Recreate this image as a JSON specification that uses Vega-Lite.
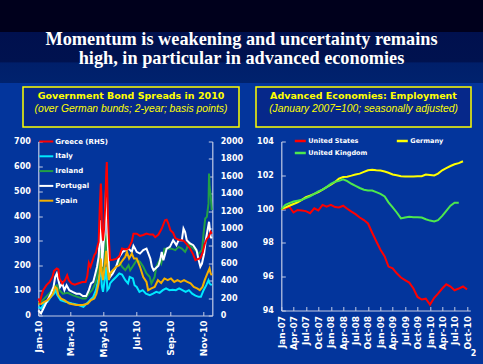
{
  "$schema": "https://vega.github.io/schema/vega-lite/v6.json",
  "background": "#03359c",
  "padding": {"left": 0, "top": 0, "right": 0, "bottom": 14},
  "config": {
    "font": "DejaVu Sans",
    "view": {"stroke": null},
    "axis": {
      "labelColor": "#ffffff", "labelFont": "DejaVu Sans", "labelFontWeight": "bold",
      "domainColor": "#c4cce6", "tickColor": "#c4cce6", "domainWidth": 1.2,
      "tickSize": -4, "grid": false, "labelFlush": false, "labelOverlap": false, "labelBound": false
    },
    "legend": {
      "symbolType": "stroke", "symbolStrokeWidth": 2.5,
      "labelColor": "#ffffff", "labelFont": "DejaVu Sans", "labelFontWeight": "bold",
      "labelOffset": 1, "padding": 0
    }
  },
  "datasets": {
    "band": [{"t": ["Momentum is weakening and uncertainty remains", "high, in particular in advanced economies"]}],
    "blank": [{"t": ""}],
    "spreads": [
      {"s":"Greece (RHS)","d":"2010/01/01","v":195},{"s":"Greece (RHS)","d":"2010/01/04","v":157},{"s":"Greece (RHS)","d":"2010/01/07","v":230},{"s":"Greece (RHS)","d":"2010/01/10","v":291},{"s":"Greece (RHS)","d":"2010/01/16","v":349},{"s":"Greece (RHS)","d":"2010/01/22","v":387},{"s":"Greece (RHS)","d":"2010/01/27","v":443},{"s":"Greece (RHS)","d":"2010/01/30","v":513},{"s":"Greece (RHS)","d":"2010/02/04","v":540},{"s":"Greece (RHS)","d":"2010/02/07","v":530},{"s":"Greece (RHS)","d":"2010/02/09","v":425},{"s":"Greece (RHS)","d":"2010/02/14","v":368},{"s":"Greece (RHS)","d":"2010/02/19","v":406},{"s":"Greece (RHS)","d":"2010/02/23","v":463},{"s":"Greece (RHS)","d":"2010/02/26","v":406},{"s":"Greece (RHS)","d":"2010/03/03","v":368},{"s":"Greece (RHS)","d":"2010/03/09","v":355},{"s":"Greece (RHS)","d":"2010/03/15","v":368},{"s":"Greece (RHS)","d":"2010/03/23","v":385},{"s":"Greece (RHS)","d":"2010/03/29","v":385},{"s":"Greece (RHS)","d":"2010/04/01","v":450},{"s":"Greece (RHS)","d":"2010/04/04","v":605},{"s":"Greece (RHS)","d":"2010/04/07","v":559},{"s":"Greece (RHS)","d":"2010/04/10","v":616},{"s":"Greece (RHS)","d":"2010/04/14","v":693},{"s":"Greece (RHS)","d":"2010/04/17","v":720},{"s":"Greece (RHS)","d":"2010/04/20","v":800},{"s":"Greece (RHS)","d":"2010/04/22","v":846},{"s":"Greece (RHS)","d":"2010/04/24","v":1230},{"s":"Greece (RHS)","d":"2010/04/26","v":1517},{"s":"Greece (RHS)","d":"2010/04/27","v":1400},{"s":"Greece (RHS)","d":"2010/04/28","v":1000},{"s":"Greece (RHS)","d":"2010/04/30","v":860},{"s":"Greece (RHS)","d":"2010/05/02","v":1000},{"s":"Greece (RHS)","d":"2010/05/04","v":1250},{"s":"Greece (RHS)","d":"2010/05/06","v":1650},{"s":"Greece (RHS)","d":"2010/05/07","v":1765},{"s":"Greece (RHS)","d":"2010/05/09","v":1150},{"s":"Greece (RHS)","d":"2010/05/11","v":860},{"s":"Greece (RHS)","d":"2010/05/13","v":636},{"s":"Greece (RHS)","d":"2010/05/18","v":640},{"s":"Greece (RHS)","d":"2010/05/24","v":650},{"s":"Greece (RHS)","d":"2010/05/30","v":680},{"s":"Greece (RHS)","d":"2010/06/04","v":770},{"s":"Greece (RHS)","d":"2010/06/10","v":760},{"s":"Greece (RHS)","d":"2010/06/16","v":770},{"s":"Greece (RHS)","d":"2010/06/22","v":850},{"s":"Greece (RHS)","d":"2010/06/25","v":940},{"s":"Greece (RHS)","d":"2010/07/01","v":940},{"s":"Greece (RHS)","d":"2010/07/07","v":915},{"s":"Greece (RHS)","d":"2010/07/13","v":925},{"s":"Greece (RHS)","d":"2010/07/19","v":942},{"s":"Greece (RHS)","d":"2010/07/25","v":930},{"s":"Greece (RHS)","d":"2010/07/31","v":930},{"s":"Greece (RHS)","d":"2010/08/04","v":900},{"s":"Greece (RHS)","d":"2010/08/10","v":930},{"s":"Greece (RHS)","d":"2010/08/16","v":1000},{"s":"Greece (RHS)","d":"2010/08/22","v":1095},{"s":"Greece (RHS)","d":"2010/08/25","v":1100},{"s":"Greece (RHS)","d":"2010/08/28","v":1060},{"s":"Greece (RHS)","d":"2010/09/01","v":980},{"s":"Greece (RHS)","d":"2010/09/06","v":950},{"s":"Greece (RHS)","d":"2010/09/10","v":890},{"s":"Greece (RHS)","d":"2010/09/16","v":870},{"s":"Greece (RHS)","d":"2010/09/25","v":860},{"s":"Greece (RHS)","d":"2010/10/01","v":820},{"s":"Greece (RHS)","d":"2010/10/07","v":770},{"s":"Greece (RHS)","d":"2010/10/13","v":700},{"s":"Greece (RHS)","d":"2010/10/17","v":636},{"s":"Greece (RHS)","d":"2010/10/22","v":650},{"s":"Greece (RHS)","d":"2010/10/26","v":660},{"s":"Greece (RHS)","d":"2010/10/30","v":720},{"s":"Greece (RHS)","d":"2010/11/03","v":820},{"s":"Greece (RHS)","d":"2010/11/07","v":880},{"s":"Greece (RHS)","d":"2010/11/10","v":900},{"s":"Greece (RHS)","d":"2010/11/14","v":961},{"s":"Greece (RHS)","d":"2010/11/16","v":940},
      {"s":"Italy","d":"2010/01/01","v":35},{"s":"Italy","d":"2010/01/06","v":28},{"s":"Italy","d":"2010/01/12","v":48},{"s":"Italy","d":"2010/01/18","v":55},{"s":"Italy","d":"2010/01/24","v":75},{"s":"Italy","d":"2010/01/30","v":88},{"s":"Italy","d":"2010/02/02","v":102},{"s":"Italy","d":"2010/02/05","v":82},{"s":"Italy","d":"2010/02/11","v":62},{"s":"Italy","d":"2010/02/20","v":55},{"s":"Italy","d":"2010/03/04","v":48},{"s":"Italy","d":"2010/03/16","v":42},{"s":"Italy","d":"2010/03/25","v":35},{"s":"Italy","d":"2010/03/31","v":48},{"s":"Italy","d":"2010/04/06","v":62},{"s":"Italy","d":"2010/04/12","v":75},{"s":"Italy","d":"2010/04/17","v":102},{"s":"Italy","d":"2010/04/21","v":142},{"s":"Italy","d":"2010/04/26","v":180},{"s":"Italy","d":"2010/04/28","v":115},{"s":"Italy","d":"2010/04/30","v":95},{"s":"Italy","d":"2010/05/03","v":142},{"s":"Italy","d":"2010/05/06","v":196},{"s":"Italy","d":"2010/05/08","v":102},{"s":"Italy","d":"2010/05/11","v":110},{"s":"Italy","d":"2010/05/13","v":129},{"s":"Italy","d":"2010/05/18","v":142},{"s":"Italy","d":"2010/05/24","v":155},{"s":"Italy","d":"2010/05/30","v":169},{"s":"Italy","d":"2010/06/04","v":165},{"s":"Italy","d":"2010/06/10","v":142},{"s":"Italy","d":"2010/06/15","v":129},{"s":"Italy","d":"2010/06/18","v":155},{"s":"Italy","d":"2010/06/24","v":149},{"s":"Italy","d":"2010/06/27","v":122},{"s":"Italy","d":"2010/07/01","v":115},{"s":"Italy","d":"2010/07/06","v":95},{"s":"Italy","d":"2010/07/12","v":102},{"s":"Italy","d":"2010/07/18","v":88},{"s":"Italy","d":"2010/07/25","v":82},{"s":"Italy","d":"2010/07/31","v":88},{"s":"Italy","d":"2010/08/06","v":95},{"s":"Italy","d":"2010/08/12","v":91},{"s":"Italy","d":"2010/08/18","v":102},{"s":"Italy","d":"2010/08/24","v":109},{"s":"Italy","d":"2010/08/30","v":102},{"s":"Italy","d":"2010/09/05","v":104},{"s":"Italy","d":"2010/09/11","v":102},{"s":"Italy","d":"2010/09/17","v":109},{"s":"Italy","d":"2010/09/23","v":102},{"s":"Italy","d":"2010/09/29","v":95},{"s":"Italy","d":"2010/10/05","v":102},{"s":"Italy","d":"2010/10/11","v":88},{"s":"Italy","d":"2010/10/17","v":80},{"s":"Italy","d":"2010/10/23","v":75},{"s":"Italy","d":"2010/10/27","v":75},{"s":"Italy","d":"2010/11/01","v":102},{"s":"Italy","d":"2010/11/06","v":122},{"s":"Italy","d":"2010/11/10","v":142},{"s":"Italy","d":"2010/11/12","v":129},{"s":"Italy","d":"2010/11/16","v":122},
      {"s":"Ireland","d":"2010/01/01","v":48},{"s":"Ireland","d":"2010/01/06","v":55},{"s":"Ireland","d":"2010/01/15","v":75},{"s":"Ireland","d":"2010/01/24","v":95},{"s":"Ireland","d":"2010/01/30","v":115},{"s":"Ireland","d":"2010/02/04","v":122},{"s":"Ireland","d":"2010/02/09","v":102},{"s":"Ireland","d":"2010/02/15","v":88},{"s":"Ireland","d":"2010/02/24","v":91},{"s":"Ireland","d":"2010/03/05","v":82},{"s":"Ireland","d":"2010/03/14","v":75},{"s":"Ireland","d":"2010/03/23","v":68},{"s":"Ireland","d":"2010/03/29","v":68},{"s":"Ireland","d":"2010/04/04","v":88},{"s":"Ireland","d":"2010/04/10","v":102},{"s":"Ireland","d":"2010/04/16","v":129},{"s":"Ireland","d":"2010/04/19","v":155},{"s":"Ireland","d":"2010/04/24","v":263},{"s":"Ireland","d":"2010/04/26","v":222},{"s":"Ireland","d":"2010/04/29","v":169},{"s":"Ireland","d":"2010/05/02","v":196},{"s":"Ireland","d":"2010/05/06","v":330},{"s":"Ireland","d":"2010/05/08","v":222},{"s":"Ireland","d":"2010/05/11","v":155},{"s":"Ireland","d":"2010/05/17","v":169},{"s":"Ireland","d":"2010/05/24","v":196},{"s":"Ireland","d":"2010/05/30","v":216},{"s":"Ireland","d":"2010/06/04","v":196},{"s":"Ireland","d":"2010/06/10","v":182},{"s":"Ireland","d":"2010/06/16","v":202},{"s":"Ireland","d":"2010/06/19","v":182},{"s":"Ireland","d":"2010/06/25","v":202},{"s":"Ireland","d":"2010/07/01","v":223},{"s":"Ireland","d":"2010/07/07","v":216},{"s":"Ireland","d":"2010/07/13","v":196},{"s":"Ireland","d":"2010/07/19","v":169},{"s":"Ireland","d":"2010/07/25","v":155},{"s":"Ireland","d":"2010/07/28","v":129},{"s":"Ireland","d":"2010/07/31","v":142},{"s":"Ireland","d":"2010/08/03","v":155},{"s":"Ireland","d":"2010/08/06","v":196},{"s":"Ireland","d":"2010/08/09","v":209},{"s":"Ireland","d":"2010/08/12","v":223},{"s":"Ireland","d":"2010/08/15","v":209},{"s":"Ireland","d":"2010/08/18","v":236},{"s":"Ireland","d":"2010/08/21","v":269},{"s":"Ireland","d":"2010/08/27","v":269},{"s":"Ireland","d":"2010/09/03","v":269},{"s":"Ireland","d":"2010/09/10","v":263},{"s":"Ireland","d":"2010/09/16","v":276},{"s":"Ireland","d":"2010/09/22","v":269},{"s":"Ireland","d":"2010/09/28","v":256},{"s":"Ireland","d":"2010/10/01","v":269},{"s":"Ireland","d":"2010/10/04","v":290},{"s":"Ireland","d":"2010/10/10","v":276},{"s":"Ireland","d":"2010/10/17","v":263},{"s":"Ireland","d":"2010/10/23","v":249},{"s":"Ireland","d":"2010/10/29","v":263},{"s":"Ireland","d":"2010/11/01","v":330},{"s":"Ireland","d":"2010/11/04","v":390},{"s":"Ireland","d":"2010/11/07","v":397},{"s":"Ireland","d":"2010/11/10","v":450},{"s":"Ireland","d":"2010/11/11","v":571},{"s":"Ireland","d":"2010/11/12","v":520},{"s":"Ireland","d":"2010/11/14","v":484},{"s":"Ireland","d":"2010/11/16","v":424},
      {"s":"Portugal","d":"2010/01/01","v":21},{"s":"Portugal","d":"2010/01/06","v":8},{"s":"Portugal","d":"2010/01/12","v":35},{"s":"Portugal","d":"2010/01/18","v":62},{"s":"Portugal","d":"2010/01/24","v":88},{"s":"Portugal","d":"2010/01/29","v":115},{"s":"Portugal","d":"2010/02/01","v":155},{"s":"Portugal","d":"2010/02/04","v":169},{"s":"Portugal","d":"2010/02/07","v":142},{"s":"Portugal","d":"2010/02/10","v":115},{"s":"Portugal","d":"2010/02/14","v":129},{"s":"Portugal","d":"2010/02/18","v":102},{"s":"Portugal","d":"2010/02/22","v":122},{"s":"Portugal","d":"2010/02/27","v":102},{"s":"Portugal","d":"2010/03/05","v":95},{"s":"Portugal","d":"2010/03/12","v":88},{"s":"Portugal","d":"2010/03/18","v":88},{"s":"Portugal","d":"2010/03/24","v":78},{"s":"Portugal","d":"2010/03/30","v":78},{"s":"Portugal","d":"2010/04/04","v":102},{"s":"Portugal","d":"2010/04/08","v":129},{"s":"Portugal","d":"2010/04/12","v":135},{"s":"Portugal","d":"2010/04/16","v":169},{"s":"Portugal","d":"2010/04/19","v":196},{"s":"Portugal","d":"2010/04/22","v":236},{"s":"Portugal","d":"2010/04/26","v":383},{"s":"Portugal","d":"2010/04/27","v":330},{"s":"Portugal","d":"2010/04/28","v":196},{"s":"Portugal","d":"2010/05/01","v":290},{"s":"Portugal","d":"2010/05/03","v":330},{"s":"Portugal","d":"2010/05/06","v":544},{"s":"Portugal","d":"2010/05/08","v":330},{"s":"Portugal","d":"2010/05/11","v":182},{"s":"Portugal","d":"2010/05/13","v":155},{"s":"Portugal","d":"2010/05/18","v":169},{"s":"Portugal","d":"2010/05/24","v":196},{"s":"Portugal","d":"2010/05/30","v":236},{"s":"Portugal","d":"2010/06/05","v":256},{"s":"Portugal","d":"2010/06/11","v":263},{"s":"Portugal","d":"2010/06/16","v":269},{"s":"Portugal","d":"2010/06/22","v":256},{"s":"Portugal","d":"2010/06/25","v":280},{"s":"Portugal","d":"2010/06/28","v":269},{"s":"Portugal","d":"2010/07/01","v":256},{"s":"Portugal","d":"2010/07/07","v":249},{"s":"Portugal","d":"2010/07/13","v":263},{"s":"Portugal","d":"2010/07/19","v":269},{"s":"Portugal","d":"2010/07/26","v":229},{"s":"Portugal","d":"2010/07/29","v":196},{"s":"Portugal","d":"2010/08/01","v":182},{"s":"Portugal","d":"2010/08/04","v":188},{"s":"Portugal","d":"2010/08/10","v":200},{"s":"Portugal","d":"2010/08/13","v":222},{"s":"Portugal","d":"2010/08/16","v":256},{"s":"Portugal","d":"2010/08/19","v":222},{"s":"Portugal","d":"2010/08/25","v":269},{"s":"Portugal","d":"2010/08/31","v":276},{"s":"Portugal","d":"2010/09/06","v":303},{"s":"Portugal","d":"2010/09/12","v":283},{"s":"Portugal","d":"2010/09/16","v":303},{"s":"Portugal","d":"2010/09/22","v":303},{"s":"Portugal","d":"2010/09/25","v":350},{"s":"Portugal","d":"2010/09/28","v":336},{"s":"Portugal","d":"2010/10/01","v":303},{"s":"Portugal","d":"2010/10/07","v":290},{"s":"Portugal","d":"2010/10/13","v":283},{"s":"Portugal","d":"2010/10/19","v":263},{"s":"Portugal","d":"2010/10/23","v":222},{"s":"Portugal","d":"2010/10/26","v":196},{"s":"Portugal","d":"2010/10/29","v":209},{"s":"Portugal","d":"2010/11/02","v":249},{"s":"Portugal","d":"2010/11/05","v":303},{"s":"Portugal","d":"2010/11/08","v":340},{"s":"Portugal","d":"2010/11/11","v":377},{"s":"Portugal","d":"2010/11/14","v":316},{"s":"Portugal","d":"2010/11/16","v":310},
      {"s":"Spain","d":"2010/01/01","v":48},{"s":"Spain","d":"2010/01/06","v":46},{"s":"Spain","d":"2010/01/12","v":55},{"s":"Spain","d":"2010/01/18","v":62},{"s":"Spain","d":"2010/01/24","v":75},{"s":"Spain","d":"2010/01/28","v":88},{"s":"Spain","d":"2010/02/01","v":115},{"s":"Spain","d":"2010/02/04","v":109},{"s":"Spain","d":"2010/02/07","v":82},{"s":"Spain","d":"2010/02/12","v":68},{"s":"Spain","d":"2010/02/18","v":62},{"s":"Spain","d":"2010/02/27","v":48},{"s":"Spain","d":"2010/03/12","v":42},{"s":"Spain","d":"2010/03/24","v":42},{"s":"Spain","d":"2010/04/02","v":48},{"s":"Spain","d":"2010/04/08","v":62},{"s":"Spain","d":"2010/04/14","v":68},{"s":"Spain","d":"2010/04/18","v":88},{"s":"Spain","d":"2010/04/22","v":129},{"s":"Spain","d":"2010/04/26","v":229},{"s":"Spain","d":"2010/04/28","v":169},{"s":"Spain","d":"2010/04/30","v":142},{"s":"Spain","d":"2010/05/03","v":196},{"s":"Spain","d":"2010/05/06","v":260},{"s":"Spain","d":"2010/05/08","v":196},{"s":"Spain","d":"2010/05/11","v":142},{"s":"Spain","d":"2010/05/13","v":169},{"s":"Spain","d":"2010/05/18","v":182},{"s":"Spain","d":"2010/05/24","v":196},{"s":"Spain","d":"2010/05/30","v":202},{"s":"Spain","d":"2010/06/05","v":222},{"s":"Spain","d":"2010/06/10","v":236},{"s":"Spain","d":"2010/06/13","v":256},{"s":"Spain","d":"2010/06/17","v":229},{"s":"Spain","d":"2010/06/22","v":249},{"s":"Spain","d":"2010/06/26","v":229},{"s":"Spain","d":"2010/07/01","v":229},{"s":"Spain","d":"2010/07/07","v":196},{"s":"Spain","d":"2010/07/13","v":155},{"s":"Spain","d":"2010/07/19","v":135},{"s":"Spain","d":"2010/07/22","v":102},{"s":"Spain","d":"2010/07/28","v":109},{"s":"Spain","d":"2010/08/03","v":115},{"s":"Spain","d":"2010/08/09","v":142},{"s":"Spain","d":"2010/08/15","v":131},{"s":"Spain","d":"2010/08/21","v":149},{"s":"Spain","d":"2010/08/27","v":142},{"s":"Spain","d":"2010/09/02","v":149},{"s":"Spain","d":"2010/09/08","v":135},{"s":"Spain","d":"2010/09/14","v":142},{"s":"Spain","d":"2010/09/20","v":135},{"s":"Spain","d":"2010/09/26","v":142},{"s":"Spain","d":"2010/10/02","v":135},{"s":"Spain","d":"2010/10/08","v":129},{"s":"Spain","d":"2010/10/14","v":115},{"s":"Spain","d":"2010/10/20","v":109},{"s":"Spain","d":"2010/10/25","v":102},{"s":"Spain","d":"2010/10/30","v":115},{"s":"Spain","d":"2010/11/03","v":142},{"s":"Spain","d":"2010/11/08","v":169},{"s":"Spain","d":"2010/11/12","v":190},{"s":"Spain","d":"2010/11/14","v":169},{"s":"Spain","d":"2010/11/16","v":162}
    ],
    "emp": [
      {"s":"United States","d":"2007/01/01","v":100.0},{"s":"United States","d":"2007/02/01","v":100.05},{"s":"United States","d":"2007/03/01","v":100.15},{"s":"United States","d":"2007/04/01","v":99.8},{"s":"United States","d":"2007/05/01","v":99.95},{"s":"United States","d":"2007/06/01","v":99.92},{"s":"United States","d":"2007/07/01","v":99.88},{"s":"United States","d":"2007/08/01","v":99.76},{"s":"United States","d":"2007/09/01","v":100.05},{"s":"United States","d":"2007/10/01","v":99.92},{"s":"United States","d":"2007/11/01","v":100.25},{"s":"United States","d":"2007/12/01","v":100.15},{"s":"United States","d":"2008/01/01","v":100.25},{"s":"United States","d":"2008/02/01","v":100.12},{"s":"United States","d":"2008/03/01","v":100.1},{"s":"United States","d":"2008/04/01","v":100.2},{"s":"United States","d":"2008/05/01","v":100.02},{"s":"United States","d":"2008/06/01","v":99.85},{"s":"United States","d":"2008/07/01","v":99.7},{"s":"United States","d":"2008/08/01","v":99.5},{"s":"United States","d":"2008/09/01","v":99.35},{"s":"United States","d":"2008/10/01","v":99.15},{"s":"United States","d":"2008/11/01","v":98.6},{"s":"United States","d":"2008/12/01","v":98.1},{"s":"United States","d":"2009/01/01","v":97.6},{"s":"United States","d":"2009/02/01","v":97.2},{"s":"United States","d":"2009/03/01","v":96.6},{"s":"United States","d":"2009/04/01","v":96.5},{"s":"United States","d":"2009/05/01","v":96.2},{"s":"United States","d":"2009/06/01","v":95.95},{"s":"United States","d":"2009/07/01","v":95.8},{"s":"United States","d":"2009/08/01","v":95.65},{"s":"United States","d":"2009/09/01","v":95.3},{"s":"United States","d":"2009/10/01","v":94.8},{"s":"United States","d":"2009/11/01","v":94.65},{"s":"United States","d":"2009/12/01","v":94.7},{"s":"United States","d":"2010/01/01","v":94.35},{"s":"United States","d":"2010/02/01","v":94.75},{"s":"United States","d":"2010/03/01","v":95.0},{"s":"United States","d":"2010/04/01","v":95.3},{"s":"United States","d":"2010/05/01","v":95.55},{"s":"United States","d":"2010/06/01","v":95.42},{"s":"United States","d":"2010/07/01","v":95.2},{"s":"United States","d":"2010/08/01","v":95.3},{"s":"United States","d":"2010/09/01","v":95.42},{"s":"United States","d":"2010/10/01","v":95.25},
      {"s":"Germany","d":"2007/01/01","v":100.0},{"s":"Germany","d":"2007/02/01","v":100.1},{"s":"Germany","d":"2007/03/01","v":100.2},{"s":"Germany","d":"2007/04/01","v":100.3},{"s":"Germany","d":"2007/05/01","v":100.4},{"s":"Germany","d":"2007/06/01","v":100.55},{"s":"Germany","d":"2007/07/01","v":100.7},{"s":"Germany","d":"2007/08/01","v":100.8},{"s":"Germany","d":"2007/09/01","v":100.9},{"s":"Germany","d":"2007/10/01","v":101.0},{"s":"Germany","d":"2007/11/01","v":101.15},{"s":"Germany","d":"2007/12/01","v":101.3},{"s":"Germany","d":"2008/01/01","v":101.45},{"s":"Germany","d":"2008/02/01","v":101.6},{"s":"Germany","d":"2008/03/01","v":101.8},{"s":"Germany","d":"2008/04/01","v":101.9},{"s":"Germany","d":"2008/05/01","v":101.92},{"s":"Germany","d":"2008/06/01","v":101.98},{"s":"Germany","d":"2008/07/01","v":102.05},{"s":"Germany","d":"2008/08/01","v":102.1},{"s":"Germany","d":"2008/09/01","v":102.2},{"s":"Germany","d":"2008/10/01","v":102.3},{"s":"Germany","d":"2008/11/01","v":102.33},{"s":"Germany","d":"2008/12/01","v":102.3},{"s":"Germany","d":"2009/01/01","v":102.28},{"s":"Germany","d":"2009/02/01","v":102.22},{"s":"Germany","d":"2009/03/01","v":102.15},{"s":"Germany","d":"2009/04/01","v":102.05},{"s":"Germany","d":"2009/05/01","v":102.0},{"s":"Germany","d":"2009/06/01","v":101.95},{"s":"Germany","d":"2009/07/01","v":101.93},{"s":"Germany","d":"2009/08/01","v":101.93},{"s":"Germany","d":"2009/09/01","v":101.93},{"s":"Germany","d":"2009/10/01","v":101.95},{"s":"Germany","d":"2009/11/01","v":101.95},{"s":"Germany","d":"2009/12/01","v":102.05},{"s":"Germany","d":"2010/01/01","v":102.02},{"s":"Germany","d":"2010/02/01","v":101.99},{"s":"Germany","d":"2010/03/01","v":102.1},{"s":"Germany","d":"2010/04/01","v":102.3},{"s":"Germany","d":"2010/05/01","v":102.42},{"s":"Germany","d":"2010/06/01","v":102.55},{"s":"Germany","d":"2010/07/01","v":102.65},{"s":"Germany","d":"2010/08/01","v":102.72},{"s":"Germany","d":"2010/09/01","v":102.83},
      {"s":"United Kingdom","d":"2007/01/01","v":100.0},{"s":"United Kingdom","d":"2007/02/01","v":100.25},{"s":"United Kingdom","d":"2007/03/01","v":100.35},{"s":"United Kingdom","d":"2007/04/01","v":100.45},{"s":"United Kingdom","d":"2007/05/01","v":100.5},{"s":"United Kingdom","d":"2007/06/01","v":100.55},{"s":"United Kingdom","d":"2007/07/01","v":100.65},{"s":"United Kingdom","d":"2007/08/01","v":100.75},{"s":"United Kingdom","d":"2007/09/01","v":100.9},{"s":"United Kingdom","d":"2007/10/01","v":101.05},{"s":"United Kingdom","d":"2007/11/01","v":101.15},{"s":"United Kingdom","d":"2007/12/01","v":101.3},{"s":"United Kingdom","d":"2008/01/01","v":101.5},{"s":"United Kingdom","d":"2008/02/01","v":101.62},{"s":"United Kingdom","d":"2008/03/01","v":101.67},{"s":"United Kingdom","d":"2008/04/01","v":101.76},{"s":"United Kingdom","d":"2008/05/01","v":101.65},{"s":"United Kingdom","d":"2008/06/01","v":101.5},{"s":"United Kingdom","d":"2008/07/01","v":101.38},{"s":"United Kingdom","d":"2008/08/01","v":101.25},{"s":"United Kingdom","d":"2008/09/01","v":101.15},{"s":"United Kingdom","d":"2008/10/01","v":101.1},{"s":"United Kingdom","d":"2008/11/01","v":101.1},{"s":"United Kingdom","d":"2008/12/01","v":101.0},{"s":"United Kingdom","d":"2009/01/01","v":100.9},{"s":"United Kingdom","d":"2009/02/01","v":100.75},{"s":"United Kingdom","d":"2009/03/01","v":100.4},{"s":"United Kingdom","d":"2009/04/01","v":100.1},{"s":"United Kingdom","d":"2009/05/01","v":99.8},{"s":"United Kingdom","d":"2009/06/01","v":99.45},{"s":"United Kingdom","d":"2009/07/01","v":99.5},{"s":"United Kingdom","d":"2009/08/01","v":99.55},{"s":"United Kingdom","d":"2009/09/01","v":99.52},{"s":"United Kingdom","d":"2009/10/01","v":99.52},{"s":"United Kingdom","d":"2009/11/01","v":99.5},{"s":"United Kingdom","d":"2009/12/01","v":99.4},{"s":"United Kingdom","d":"2010/01/01","v":99.32},{"s":"United Kingdom","d":"2010/02/01","v":99.27},{"s":"United Kingdom","d":"2010/03/01","v":99.35},{"s":"United Kingdom","d":"2010/04/01","v":99.6},{"s":"United Kingdom","d":"2010/05/01","v":99.9},{"s":"United Kingdom","d":"2010/06/01","v":100.2},{"s":"United Kingdom","d":"2010/07/01","v":100.38},{"s":"United Kingdom","d":"2010/08/01","v":100.38}
    ]
  },
  "vconcat": [
    {
      "width": 483, "height": 83,
      "view": {"stroke": null, "fill": {"gradient": "linear", "x1": 0, "y1": 0, "x2": 0, "y2": 1, "stops": [
        {"offset": 0, "color": "#00001c"}, {"offset": 0.38, "color": "#00001c"},
        {"offset": 0.385, "color": "#00104e"}, {"offset": 0.75, "color": "#00124f"},
        {"offset": 0.755, "color": "#001f6a"}, {"offset": 1, "color": "#00226e"}]}},
      "data": {"name": "band"},
      "mark": {"type": "text", "font": "Liberation Serif, Times New Roman, serif", "fontWeight": "bold", "fontSize": 18.3, "lineHeight": 19.5, "color": "#ffffff", "dy": -2},
      "encoding": {"text": {"field": "t"}}
    },
    {
      "spacing": 0.5,
      "resolve": {"scale": {"color": "independent", "strokeWidth": "independent"}, "legend": {"color": "independent"}},
      "vconcat": [
        {
          "spacing": 15,
          "hconcat": [
            {"width": 7, "height": 40, "data": {"name": "blank"}, "mark": {"type": "text"}, "encoding": {"text": {"field": "t"}}},
            {
              "width": 216, "height": 40,
              "view": {"stroke": "#ffff00", "strokeWidth": 1.5, "fill": "#06288a"},
              "data": {"values": [{"k": 1, "t": "Government Bond Spreads in 2010"}, {"k": 2, "t": "(over German bunds; 2-year; basis points)"}]},
              "layer": [
                {"transform": [{"filter": "datum.k == 1"}], "mark": {"type": "text", "font": "DejaVu Sans", "fontWeight": "bold", "fontSize": 9.5, "color": "#ffff00", "dy": -11.5}, "encoding": {"text": {"field": "t"}}},
                {"transform": [{"filter": "datum.k == 2"}], "mark": {"type": "text", "font": "Liberation Sans", "fontStyle": "italic", "fontSize": 10.3, "color": "#ffff00", "dy": 1.5}, "encoding": {"text": {"field": "t"}}}
              ]
            },
            {
              "width": 215, "height": 40,
              "view": {"stroke": "#ffff00", "strokeWidth": 1.5, "fill": "#06288a"},
              "data": {"values": [{"k": 1, "t": "Advanced Economies: Employment"}, {"k": 2, "t": "(January 2007=100; seasonally adjusted)"}]},
              "layer": [
                {"transform": [{"filter": "datum.k == 1"}], "mark": {"type": "text", "font": "DejaVu Sans", "fontWeight": "bold", "fontSize": 9.5, "color": "#ffff00", "dy": -11.5}, "encoding": {"text": {"field": "t"}}},
                {"transform": [{"filter": "datum.k == 2"}], "mark": {"type": "text", "font": "Liberation Sans", "fontStyle": "italic", "fontSize": 10.3, "color": "#ffff00", "dy": 1.5}, "encoding": {"text": {"field": "t"}}}
              ]
            }
          ]
        },
        {
          "spacing": 12.3,
          "resolve": {"scale": {"color": "independent", "strokeWidth": "independent"}, "legend": {"color": "independent"}},
          "hconcat": [
            {"width": 1, "height": 10, "data": {"name": "blank"}, "mark": {"type": "text"}, "encoding": {"text": {"field": "t"}}},
            {
              "spacing": 13,
              "resolve": {"scale": {"color": "independent", "strokeWidth": "independent"}, "legend": {"color": "independent"}},
              "hconcat": [
                {
                  "width": 174, "height": 174,
                  "data": {"name": "spreads"},
                  "layer": [
                    {
                      "transform": [{"filter": "datum.s != 'Greece (RHS)'"}],
                      "mark": {"type": "line"},
                      "encoding": {
                        "x": {"field": "d", "type": "temporal", "title": null,
                          "scale": {"domain": [{"year": 2010, "month": 1, "date": 1}, {"year": 2010, "month": 11, "date": 17}]},
                          "axis": {"values": [{"year": 2010, "month": 1, "date": 1}, {"year": 2010, "month": 3, "date": 1}, {"year": 2010, "month": 5, "date": 1}, {"year": 2010, "month": 7, "date": 1}, {"year": 2010, "month": 9, "date": 1}, {"year": 2010, "month": 11, "date": 1}],
                            "title": null, "format": "%b-%y", "labelAngle": -90, "labelFontSize": 9, "labelPadding": 8.5, "labelOverlap": false}},
                        "y": {"field": "v", "type": "quantitative", "title": null, "scale": {"domain": [0, 700]},
                          "axis": {"title": null, "values": [0, 100, 200, 300, 400, 500, 600, 700], "labelFontSize": 8, "labelPadding": 12}},
                        "color": {"field": "s", "type": "nominal", "title": null,
                          "scale": {"domain": ["Greece (RHS)", "Italy", "Ireland", "Portugal", "Spain"], "range": ["#ff0000", "#00e8ff", "#22a045", "#ffffff", "#f5b000"]},
                          "legend": {"title": null, "orient": "none", "legendX": 0, "legendY": -8, "symbolSize": 196, "labelFontSize": 7, "rowPadding": 2.8}},
                        "strokeWidth": {"field": "s", "type": "nominal", "title": null, "scale": {"domain": ["Greece (RHS)", "Italy", "Ireland", "Portugal", "Spain"], "range": [2, 2, 1, 2, 2]}, "legend": null}
                      }
                    },
                    {
                      "transform": [{"filter": "datum.s == 'Greece (RHS)'"}],
                      "mark": {"type": "line", "strokeWidth": 2},
                      "encoding": {
                        "x": {"field": "d", "type": "temporal", "title": null,
                          "axis": {"values": [{"year": 2010, "month": 1, "date": 1}, {"year": 2010, "month": 3, "date": 1}, {"year": 2010, "month": 5, "date": 1}, {"year": 2010, "month": 7, "date": 1}, {"year": 2010, "month": 9, "date": 1}, {"year": 2010, "month": 11, "date": 1}],
                            "title": null, "format": "%b-%y", "labelAngle": -90, "labelFontSize": 9, "labelPadding": 8.5, "labelOverlap": false}},
                        "y": {"field": "v", "type": "quantitative", "title": null, "scale": {"domain": [0, 2000]},
                          "axis": {"title": null, "orient": "right", "values": [0, 200, 400, 600, 800, 1000, 1200, 1400, 1600, 1800, 2000], "format": "d", "labelFontSize": 8, "labelPadding": 12}},
                        "color": {"field": "s", "type": "nominal", "title": null}
                      }
                    }
                  ],
                  "resolve": {"scale": {"y": "independent"}}
                },
                {
                  "width": 189, "height": 169,
                  "title": {"text": ".", "fontSize": 4.5, "offset": 0.5, "color": "transparent"},
                  "data": {"name": "emp"},
                  "mark": {"type": "line", "strokeWidth": 2},
                  "encoding": {
                    "x": {"field": "d", "type": "temporal", "title": "2",
                      "scale": {"domain": [{"year": 2007, "month": 1, "date": 1}, {"year": 2010, "month": 10, "date": 25}]},
                      "axis": {"title": "2", "titleAnchor": "end", "titleAlign": "left", "titleFontSize": 8, "titleFont": "DejaVu Sans", "titleFontWeight": "bold", "titleColor": "#ffffff", "titlePadding": 0,
                        "tickCount": {"interval": "month", "step": 3}, "format": "%b-%y", "labelAngle": -90, "labelFontSize": 9, "labelPadding": 9, "labelOverlap": false}},
                    "y": {"field": "v", "type": "quantitative", "title": null, "scale": {"domain": [94, 104]},
                      "axis": {"title": null, "values": [94, 96, 98, 100, 102, 104], "labelFontSize": 8, "labelPadding": 12}},
                    "color": {"field": "s", "type": "nominal", "title": null,
                      "scale": {"domain": ["United States", "United Kingdom", "Germany"], "range": ["#ff0000", "#4de84d", "#ffff00"]},
                      "legend": {"title": null, "orient": "none", "legendX": 12, "legendY": -7.5, "columns": 2, "columnPadding": 23, "rowPadding": 0, "symbolSize": 121, "labelFontSize": 6.5}}
                  }
                }
              ]
            }
          ]
        }
      ]
    }
  ],
  "resolve": {"scale": {"color": "independent", "strokeWidth": "independent"}, "legend": {"color": "independent"}},
  "spacing": 3
}
